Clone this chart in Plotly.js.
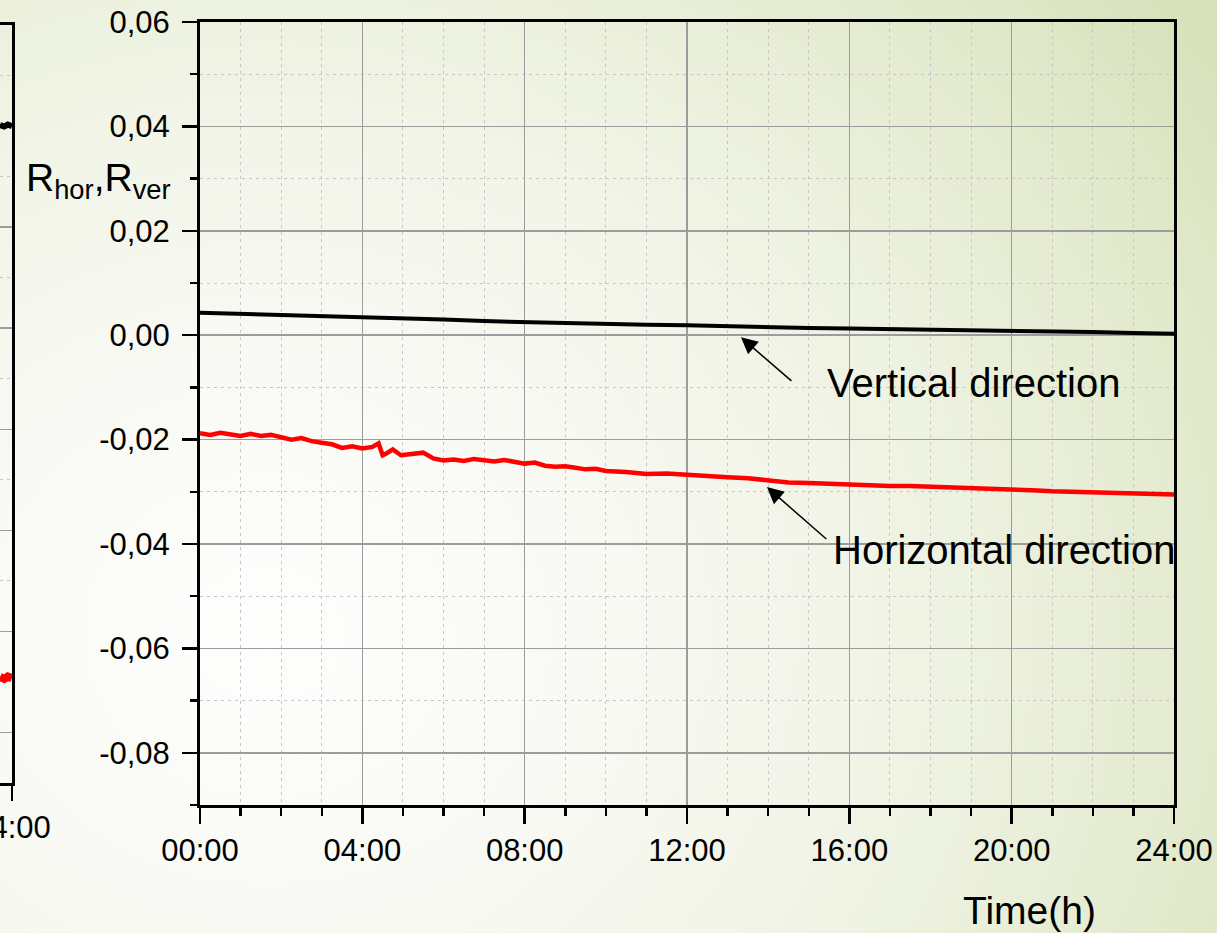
<!DOCTYPE html>
<html>
<head>
<meta charset="utf-8">
<script src="https://cdn.plot.ly/plotly-3.0.1.min.js"></script>
<style>
  html, body { margin: 0; padding: 0; }
  body {
    width: 1217px; height: 933px; overflow: hidden;
    background: radial-gradient(ellipse 95% 110% at 22% 68%, #fefefd 0%, #f8f9f3 30%, #eef2e1 60%, #e1e9cb 85%, #d7e1ba 100%);
  }
  #chart { width: 1217px; height: 933px; }
</style>
</head>
<body>
<div id="chart"></div>
<script>
// ---- Data ----
const timeRed = [0,0.25,0.5,0.75,1.0,1.25,1.5,1.75,2.0,2.25,2.5,2.75,3.0,3.25,3.5,3.75,4.0,4.25,4.4,4.5,4.6,4.75,4.95,5.25,5.5,5.75,6.0,6.25,6.5,6.75,7.0,7.25,7.5,7.75,8.0,8.25,8.5,8.75,9.0,9.25,9.5,9.75,10.0,10.5,11.0,11.5,12.0,12.5,13.0,13.5,14.0,14.5,15.0,15.5,16.0,16.5,17.0,17.5,18.0,18.5,19.0,19.5,20.0,20.5,21.0,21.5,22.0,22.5,23.0,23.5,24.0];
const horizontal = [-0.0188,-0.0191,-0.0187,-0.0190,-0.0193,-0.0189,-0.0193,-0.0191,-0.0196,-0.0200,-0.0197,-0.0203,-0.0206,-0.0209,-0.0216,-0.0213,-0.0217,-0.0214,-0.0207,-0.0230,-0.0226,-0.0219,-0.0230,-0.0228,-0.0225,-0.0236,-0.0240,-0.0238,-0.0241,-0.0237,-0.0240,-0.0242,-0.0239,-0.0243,-0.0246,-0.0244,-0.0250,-0.0252,-0.0251,-0.0254,-0.0257,-0.0256,-0.0260,-0.0262,-0.0266,-0.0265,-0.0268,-0.0269,-0.0272,-0.0274,-0.0279,-0.0282,-0.0283,-0.0285,-0.0287,-0.0288,-0.0289,-0.0289,-0.0290,-0.0291,-0.0292,-0.0294,-0.0295,-0.0297,-0.0299,-0.0300,-0.0301,-0.0302,-0.0303,-0.0304,-0.0305];

const timeBlack = [0,1,2,3,4,5,6,7,8,9,10,11,12,13,14,15,16,17,18,19,20,21,22,23,24];
const vertical = [0.0043,0.0041,0.0038,0.0036,0.0034,0.0032,0.0030,0.0027,0.0025,0.0024,0.0022,0.0020,0.0019,0.0017,0.0016,0.0014,0.0013,0.0012,0.0011,0.0010,0.0008,0.0007,0.0006,0.0004,0.0003];

// partial neighbouring chart (only its last few minutes are visible)
const timeLeft = [23.8,23.87,23.93,24.0];
const leftBlack = [0.0002,-0.0001,0.0003,0.0000];
const leftRed = [-0.1090,-0.1094,-0.1089,-0.1092];

const xTickVals = [0,4,8,12,16,20,24];
const xTickText = ['00:00','04:00','08:00','12:00','16:00','20:00','24:00'];
const yTickVals = [-0.08,-0.06,-0.04,-0.02,0.00,0.02,0.04,0.06];
const yTickText = ['-0,08','-0,06','-0,04','-0,02','0,00','0,02','0,04','0,06'];

// ---- Layout helpers (pixel -> paper) ----
const W = 1217, H = 933, ML = 0, MR = 43, MT = 22, MB = 128;
const PW = W - ML - MR, PH = H - MT - MB;
const px = x => (x - ML) / PW;
const py = y => (H - MB - y) / PH;

const FONT = '"Liberation Sans", Arial, sans-serif';

const traces = [
  { x: timeBlack, y: vertical, type: 'scatter', mode: 'lines',
    line: { color: '#000000', width: 4 }, xaxis: 'x', yaxis: 'y', name: 'Vertical' },
  { x: timeRed, y: horizontal, type: 'scatter', mode: 'lines',
    line: { color: '#ff0000', width: 4.5 }, xaxis: 'x', yaxis: 'y', name: 'Horizontal' },
  { x: timeLeft, y: leftBlack, type: 'scatter', mode: 'lines',
    line: { color: '#000000', width: 6 }, xaxis: 'x2', yaxis: 'y2', name: 'left-black' },
  { x: timeLeft, y: leftRed, type: 'scatter', mode: 'lines',
    line: { color: '#ff0000', width: 8 }, xaxis: 'x2', yaxis: 'y2', name: 'left-red' }
];

const gridMinor = { gridcolor: '#c6c6c6', griddash: '3px,4px', gridwidth: 1 };

const layout = {
  width: W, height: H,
  margin: { l: ML, r: MR, t: MT, b: MB },
  paper_bgcolor: 'rgba(0,0,0,0)',
  plot_bgcolor: 'rgba(0,0,0,0)',
  showlegend: false,
  font: { family: FONT, color: '#000000', size: 31 },
  xaxis: {
    domain: [px(200), 1],
    range: [0, 24],
    tickvals: xTickVals, ticktext: xTickText,
    ticks: 'outside', ticklen: 16, tickwidth: 2.5, tickcolor: '#000',
    showline: true, linecolor: '#000', linewidth: 3, mirror: true,
    showgrid: true, gridcolor: '#9c9c9c', gridwidth: 1.5,
    zeroline: false,
    ticklabeloverflow: 'allow',
    tickfont: { size: 31, family: FONT },
    minor: Object.assign({ dtick: 1, tick0: 0, ticks: 'outside', ticklen: 8, tickwidth: 2.5, tickcolor: '#000', showgrid: true }, gridMinor),
    anchor: 'y', fixedrange: true
  },
  yaxis: {
    domain: [0, 1],
    range: [-0.09, 0.06],
    tickvals: yTickVals, ticktext: yTickText,
    ticks: 'outside', ticklen: 15, tickwidth: 2.5, tickcolor: '#000',
    ticklabelstandoff: 6,
    showline: true, linecolor: '#000', linewidth: 3, mirror: true,
    showgrid: true, gridcolor: '#9c9c9c', gridwidth: 1.5,
    zeroline: false,
    tickfont: { size: 31, family: FONT },
    minor: Object.assign({ dtick: 0.01, tick0: 0, ticks: 'outside', ticklen: 7, tickwidth: 2.5, tickcolor: '#000', showgrid: true }, gridMinor),
    anchor: 'x', fixedrange: true
  },
  xaxis2: {
    domain: [0, px(12)],
    range: [23.8, 24],
    tickvals: [24], ticktext: ['24:00'],
    ticks: 'outside', ticklen: 15, tickwidth: 2.5, tickcolor: '#000',
    showline: true, linecolor: '#000', linewidth: 3, mirror: true,
    showgrid: false, zeroline: false,
    ticklabeloverflow: 'allow',
    tickfont: { size: 31, family: FONT },
    anchor: 'y2', fixedrange: true
  },
  yaxis2: {
    domain: [py(783), py(25)],
    range: [-0.13, 0.02],
    dtick: 0.02, tick0: 0,
    showticklabels: false,
    ticks: '',
    showline: true, linecolor: '#000', linewidth: 3, mirror: true,
    showgrid: true, gridcolor: '#9c9c9c', gridwidth: 1.5,
    zeroline: false,
    minor: Object.assign({ dtick: 0.01, tick0: 0, showgrid: true }, gridMinor),
    anchor: 'x2', fixedrange: true
  },
  annotations: [
    { xref: 'paper', yref: 'paper', x: px(24), y: py(180), xanchor: 'left', yanchor: 'middle',
      text: 'R<sub>hor</sub>,R<sub>ver</sub>', showarrow: false, font: { size: 39, family: FONT } },
    { xref: 'paper', yref: 'paper', x: px(1029), y: py(910), xanchor: 'center', yanchor: 'middle',
      text: 'Time(h)', showarrow: false, font: { size: 39, family: FONT } },
    { xref: 'x', yref: 'y', x: 15.4, y: -0.0092, xanchor: 'left', yanchor: 'middle',
      text: 'Vertical direction', showarrow: false, font: { size: 40, family: FONT } },
    { xref: 'x', yref: 'y', x: 15.55, y: -0.0412, xanchor: 'left', yanchor: 'middle',
      text: 'Horizontal direction', showarrow: false, font: { size: 40, family: FONT } },
    { xref: 'x', yref: 'y', axref: 'x', ayref: 'y',
      x: 13.33, y: -0.0004, ax: 14.61, ay: -0.0090,
      text: '', showarrow: true, arrowhead: 2, arrowsize: 2.2, arrowwidth: 1.5, arrowcolor: '#000' },
    { xref: 'x', yref: 'y', axref: 'x', ayref: 'y',
      x: 13.97, y: -0.0291, ax: 15.47, ay: -0.0393,
      text: '', showarrow: true, arrowhead: 2, arrowsize: 2.2, arrowwidth: 1.5, arrowcolor: '#000' }
  ]
};

Plotly.newPlot('chart', traces, layout, { displayModeBar: false, staticPlot: true });
</script>
</body>
</html>
